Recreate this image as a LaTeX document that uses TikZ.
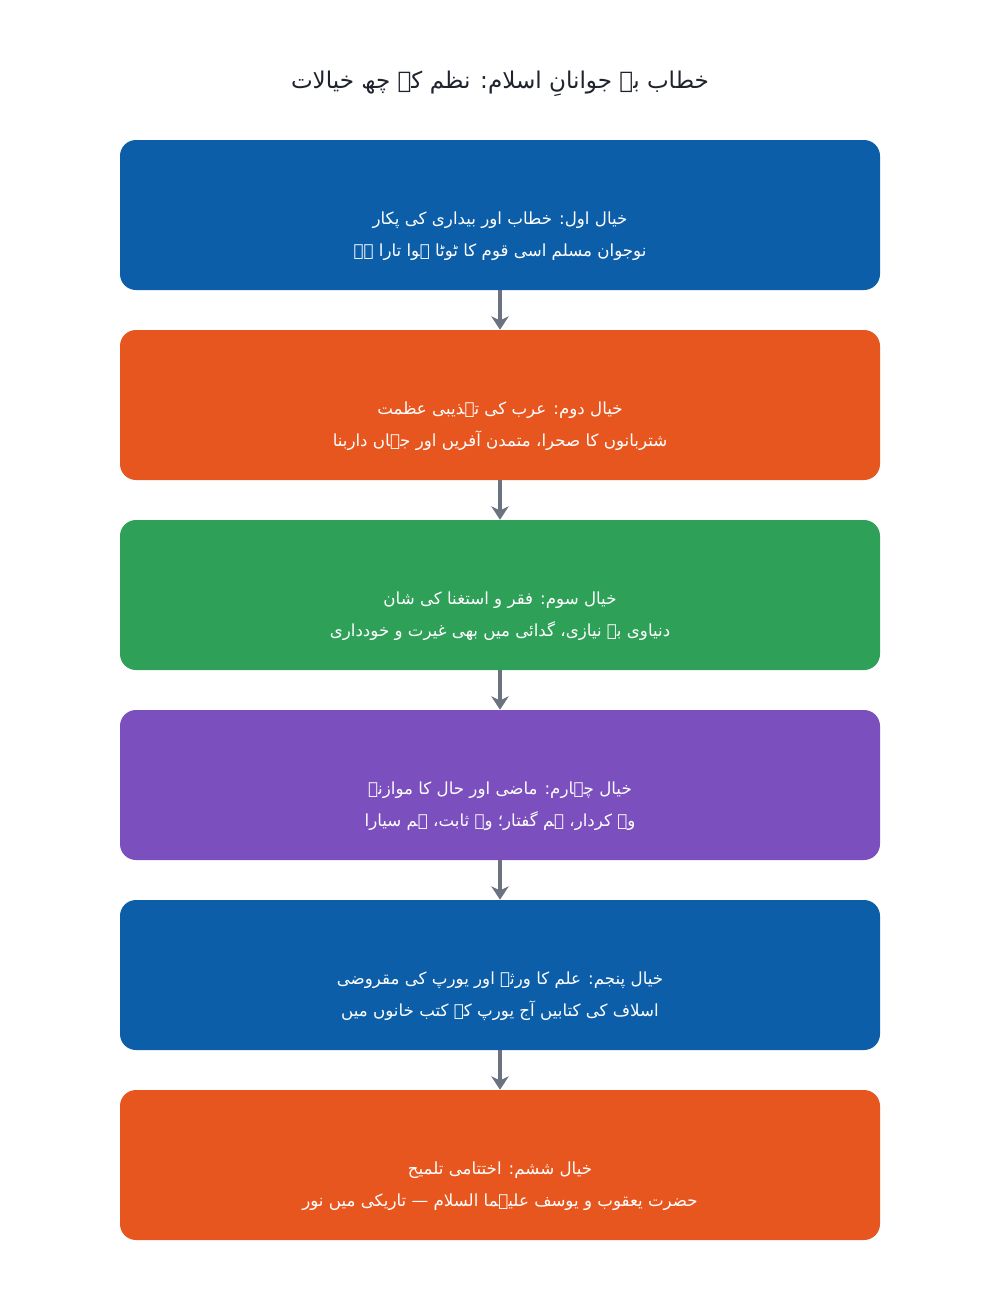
\documentclass[tikz,border=0pt]{standalone}
\usepackage{fontspec}
\setmainfont{DejaVu Sans}
\newfontfamily\urdu[Script=Arabic]{DejaVu Sans}
\TeXXeTstate=1
\usetikzlibrary{arrows.meta}
\definecolor{cblue}{RGB}{12,94,168}
\definecolor{corange}{RGB}{232,86,32}
\definecolor{cgreen}{RGB}{46,160,88}
\definecolor{cpurple}{RGB}{124,79,190}
\definecolor{carrow}{RGB}{107,114,128}
\definecolor{ctitle}{RGB}{30,35,45}
\newcommand{\topgap}{\rule{0pt}{45pt}}
\begin{document}
\begin{tikzpicture}[x=0.75pt,y=-0.75pt,
  flowbox/.style={draw=none, rounded corners=12pt, minimum width=570pt, minimum height=112.5pt,
    inner sep=0pt, text=white, font=\urdu\fontsize{12.5}{24}\selectfont},
  flowarrow/.style={draw=carrow, line width=3pt, -{Stealth[length=10pt,width=13pt,inset=3pt]}}]
\useasboundingbox (0,0) rectangle (1000,1300);
\node[font=\urdu\fontsize{17.3}{24}\selectfont, text=ctitle] (title) at (500,84) {\beginR خطاب بہ جوانانِ اسلام: نظم کے چھ خیالات\endR};
\node[flowbox, fill=cblue] (b1) at (500,215) {\begin{tabular}{@{}c@{}}\topgap\beginR خیال اول: خطاب اور بیداری کی پکار\endR\\\beginR نوجوان مسلم اسی قوم کا ٹوٹا ہوا تارا ہے\endR\end{tabular}};
\node[flowbox, fill=corange] (b2) at (500,405) {\begin{tabular}{@{}c@{}}\topgap\beginR خیال دوم: عرب کی تہذیبی عظمت\endR\\\beginR شتربانوں کا صحرا، متمدن آفریں اور جہاں داربنا\endR\end{tabular}};
\node[flowbox, fill=cgreen] (b3) at (500,595) {\begin{tabular}{@{}c@{}}\topgap\beginR خیال سوم: فقر و استغنا کی شان\endR\\\beginR دنیاوی بے نیازی، گدائی میں بھی غیرت و خودداری\endR\end{tabular}};
\node[flowbox, fill=cpurple] (b4) at (500,785) {\begin{tabular}{@{}c@{}}\topgap\beginR خیال چہارم: ماضی اور حال کا موازنہ\endR\\\beginR وہ کردار، ہم گفتار؛ وہ ثابت، ہم سیارا\endR\end{tabular}};
\node[flowbox, fill=cblue] (b5) at (500,975) {\begin{tabular}{@{}c@{}}\topgap\beginR خیال پنجم: علم کا ورثہ اور یورپ کی مقروضی\endR\\\beginR اسلاف کی کتابیں آج یورپ کے کتب خانوں میں\endR\end{tabular}};
\node[flowbox, fill=corange] (b6) at (500,1165) {\begin{tabular}{@{}c@{}}\topgap\beginR خیال ششم: اختتامی تلمیح\endR\\\beginR حضرت یعقوب و یوسف علیہما السلام — تاریکی میں نور\endR\end{tabular}};
\draw[flowarrow] (b1.south) -- (b2.north);
\draw[flowarrow] (b2.south) -- (b3.north);
\draw[flowarrow] (b3.south) -- (b4.north);
\draw[flowarrow] (b4.south) -- (b5.north);
\draw[flowarrow] (b5.south) -- (b6.north);
\end{tikzpicture}
\end{document}
